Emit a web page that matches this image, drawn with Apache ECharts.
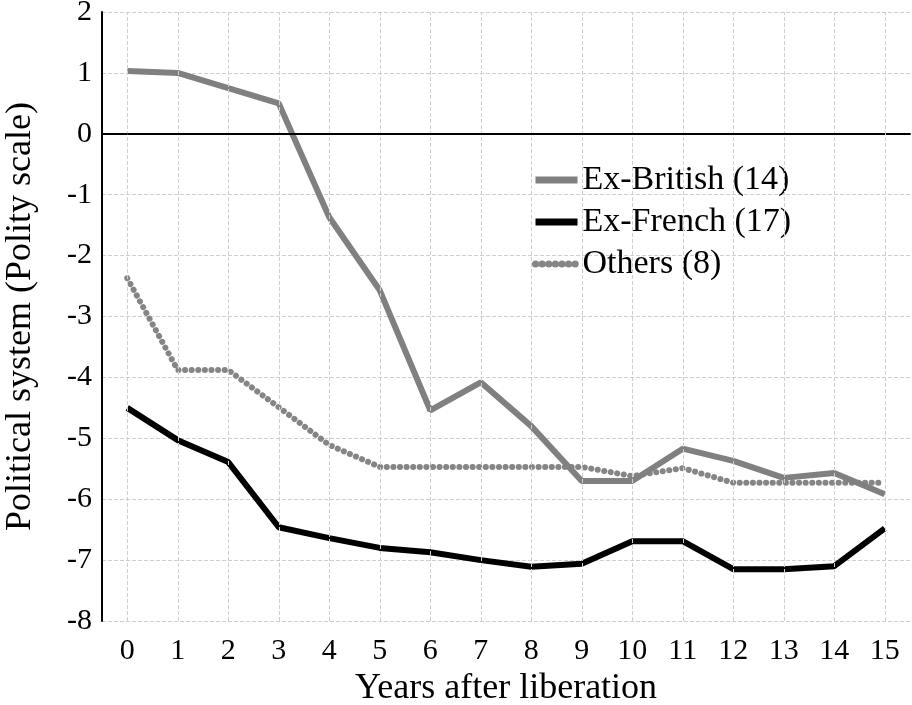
<!DOCTYPE html>
<html>
<head>
<meta charset="utf-8">
<script src="https://cdn.jsdelivr.net/npm/echarts@6/dist/echarts.min.js"></script>
<style>
  html, body { margin: 0; padding: 0; background: #fff; }
</style>
</head>
<body>
<div id="main" style="width:912px;height:705px;"></div>
<script>
// years after liberation
var years = ['0','1','2','3','4','5','6','7','8','9','10','11','12','13','14','15'];
// polity scores
var exBritish = [1.03, 1.0, 0.75, 0.5, -1.37, -2.57, -4.54, -4.08, -4.8, -5.7, -5.7, -5.17, -5.37, -5.65, -5.57, -5.92];
var exFrench = [-4.5, -5.03, -5.39, -6.46, -6.64, -6.8, -6.87, -7.0, -7.11, -7.06, -6.69, -6.69, -7.15, -7.15, -7.1, -6.48];
var others = [-2.37, -3.88, -3.88, -4.49, -5.11, -5.47, -5.47, -5.47, -5.47, -5.47, -5.62, -5.49, -5.73, -5.73, -5.73, -5.73];
var seriesNames = ['Ex-British (14)', 'Ex-French (17)', 'Others (8)'];

var font = 'Liberation Serif';
var gridColor = '#cfcfcf';
var chart = echarts.init(document.getElementById('main'));

// vertical grid lines sit on the year labels, not between them
var vGrid = years.map(function (y) { return { xAxis: y }; });

var option = {
  backgroundColor: '#fff',
  animation: false,
  textStyle: { fontFamily: font },
  grid: { left: 102, right: 2, top: 12, bottom: 84, containLabel: false, outerBoundsMode: 'none' },
  legend: {
    orient: 'vertical',
    left: 527,
    top: 158,
    itemWidth: 42,
    itemHeight: 14,
    itemGap: 8,
    itemStyle: { opacity: 0 },
    lineStyle: { width: 7 },
    textStyle: { fontFamily: font, fontSize: 34, color: '#000' },
    data: seriesNames
  },
  xAxis: {
    type: 'category',
    data: years,
    boundaryGap: true,
    name: 'Years after liberation',
    nameLocation: 'middle',
    nameGap: 50,
    nameTextStyle: { fontFamily: font, fontSize: 36, color: '#000' },
    axisLine: { lineStyle: { color: '#000', width: 2 } },
    axisTick: { show: false },
    axisLabel: { fontFamily: font, fontSize: 30, color: '#000', margin: 15 },
    splitLine: { show: false }
  },
  yAxis: {
    type: 'value',
    min: -8,
    max: 2,
    interval: 1,
    name: 'Political system (Polity scale)',
    nameLocation: 'middle',
    nameGap: 63,
    nameTextStyle: { fontFamily: font, fontSize: 36, color: '#000' },
    axisLine: { show: true, lineStyle: { color: '#000', width: 2 } },
    axisTick: { show: false },
    axisLabel: { fontFamily: font, fontSize: 30, color: '#000', margin: 10 },
    splitLine: { show: true, lineStyle: { color: gridColor, type: 'dashed', width: 1 } }
  },
  series: [
    {
      name: 'grid',
      type: 'line',
      data: [],
      z: 1,
      silent: true,
      markLine: {
        silent: true,
        symbol: 'none',
        label: { show: false },
        lineStyle: { color: gridColor, width: 1, type: 'dashed' },
        data: vGrid
      }
    },
    {
      name: seriesNames[0],
      type: 'line',
      data: exBritish,
      symbol: 'none',
      z: 3,
      lineStyle: { color: '#808080', width: 6 },
      itemStyle: { color: '#808080' },
      markLine: {
        silent: true,
        symbol: 'none',
        label: { show: false },
        lineStyle: { color: '#000', width: 2, type: 'solid' },
        data: [[{ coord: [years[0], 0] }, { coord: [years[years.length - 1], 0] }]]
      }
    },
    {
      name: seriesNames[1],
      type: 'line',
      data: exFrench,
      symbol: 'none',
      z: 4,
      lineStyle: { color: '#000', width: 6 },
      itemStyle: { color: '#000' }
    },
    {
      name: seriesNames[2],
      type: 'line',
      data: others,
      symbol: 'none',
      z: 2,
      lineStyle: { color: '#858585', width: 6, type: [0.1, 6.5], cap: 'round' },
      itemStyle: { color: '#858585' }
    }
  ]
};

chart.setOption(option);
</script>
</body>
</html>
